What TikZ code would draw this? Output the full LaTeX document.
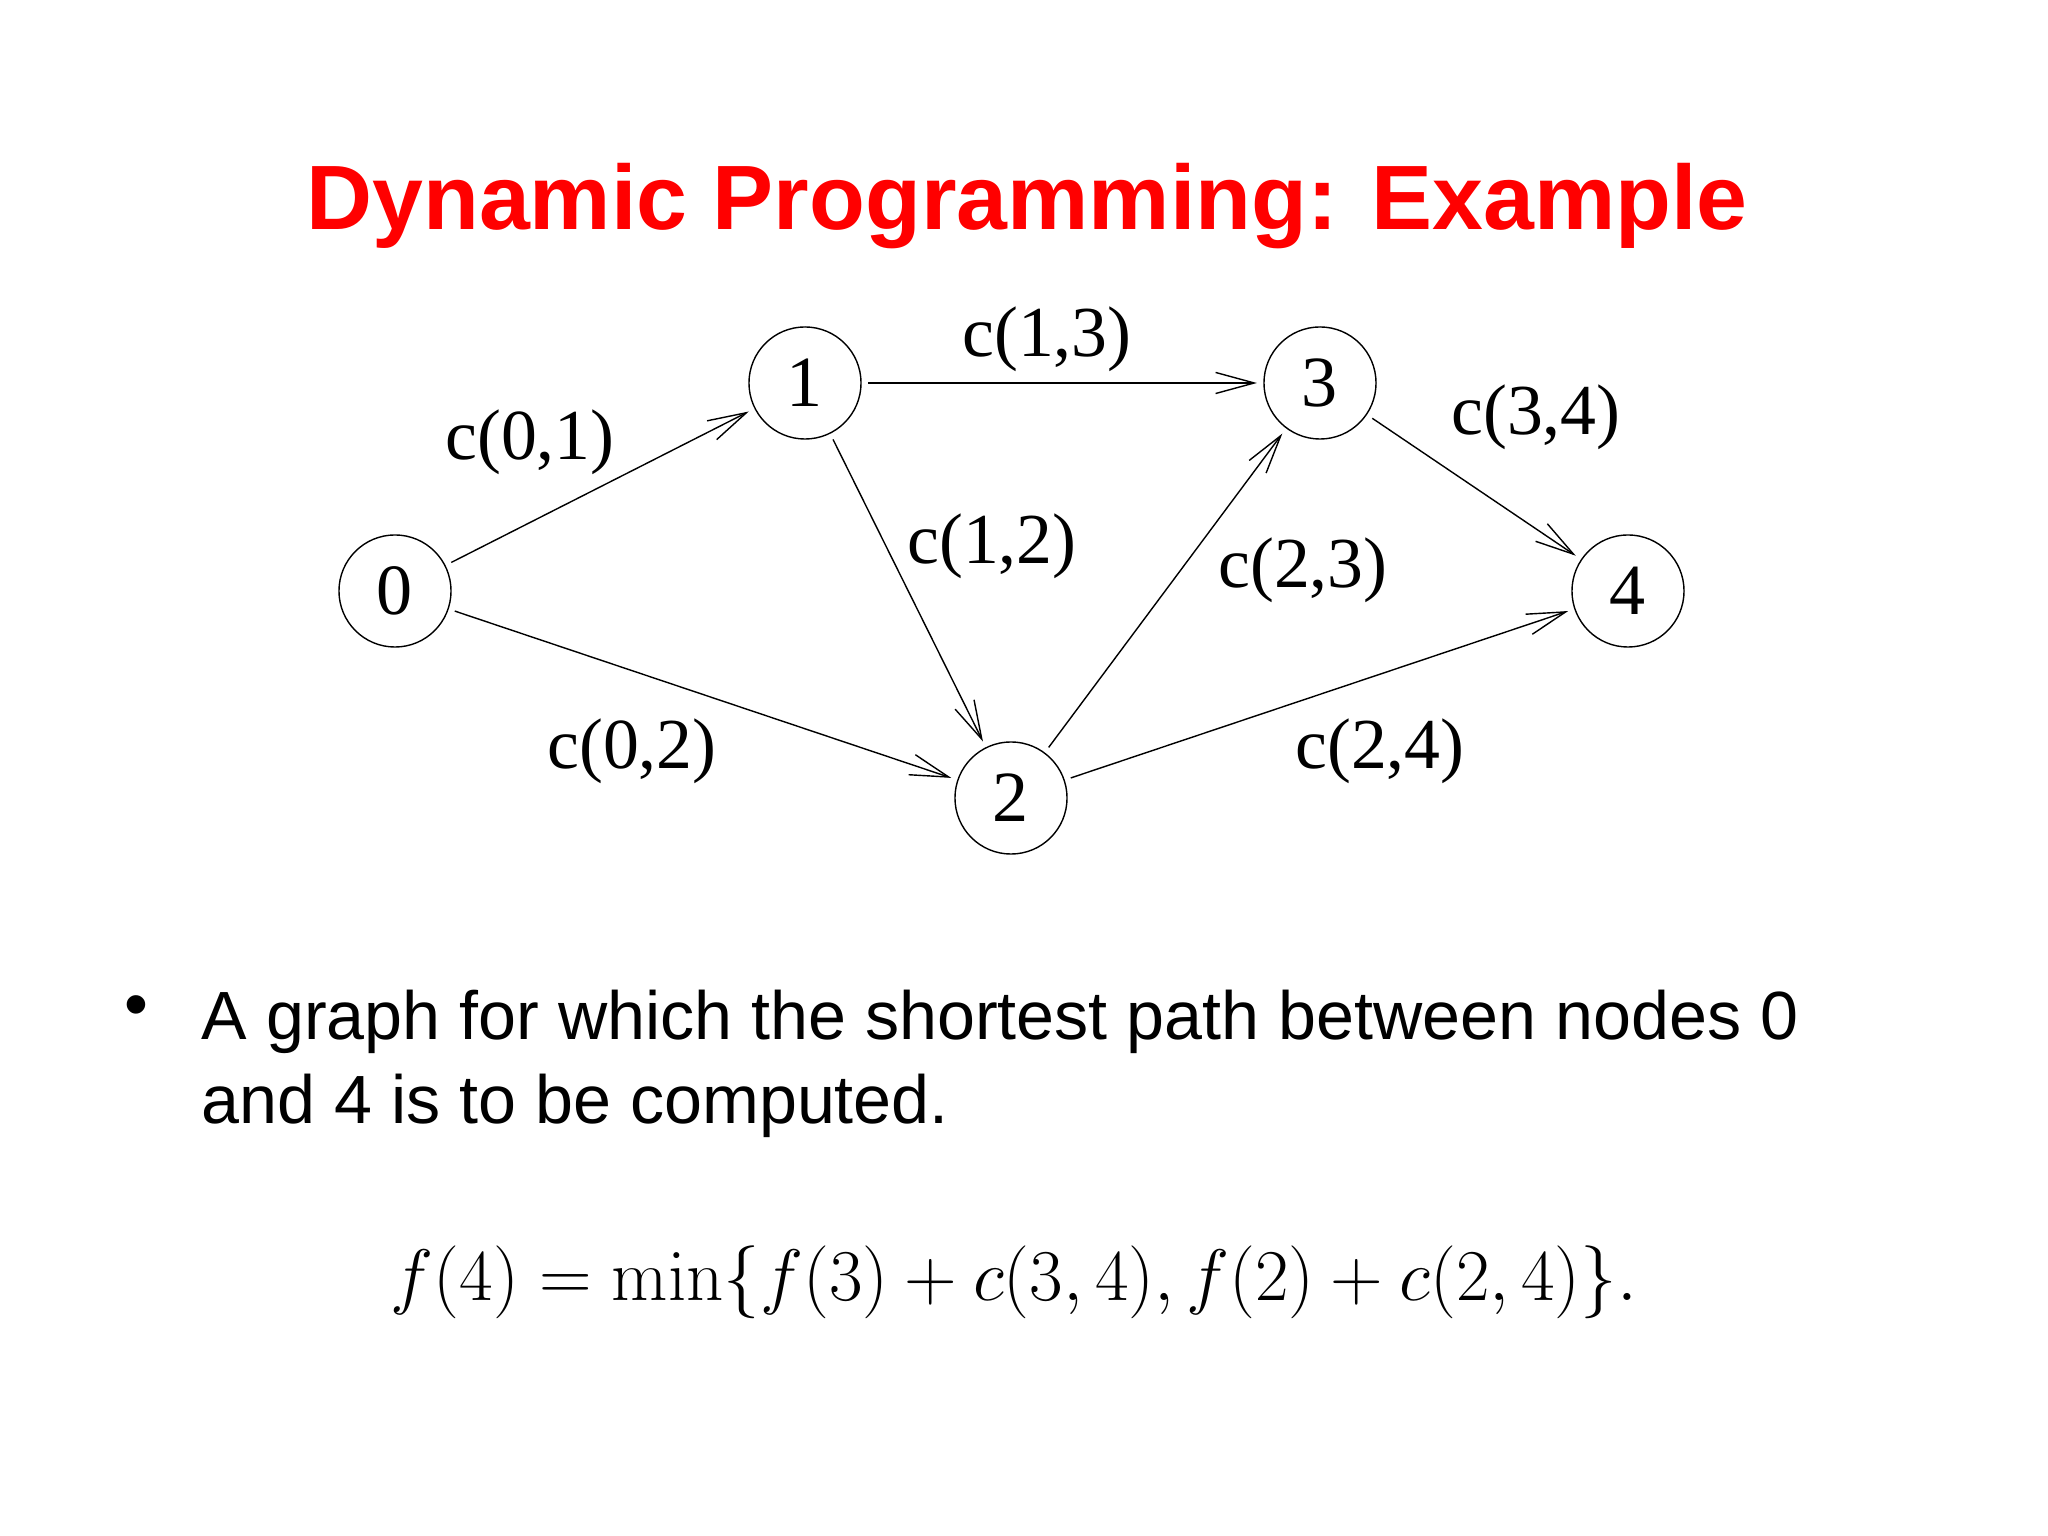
\documentclass[tikz,border=0pt]{standalone}
\usepackage{amsmath}
\usepackage{amssymb}
\usepackage[no-math]{fontspec}
\setmainfont{Liberation Serif}
\newfontfamily\arialfont{Liberation Sans}
\usetikzlibrary{arrows.meta}

\begin{document}
\begin{tikzpicture}[thin, x=0.01cm, y=0.01cm,
  >={Straight Barb[length=11pt, width=6pt]},
  vertex/.style={draw, circle, minimum size=1.12cm, inner sep=0pt, outer sep=2pt,
    font=\fontsize{20.5}{24}\selectfont},
  cost/.style={font=\fontsize{20.4}{24}\selectfont},
  slidetext/.style={font=\arialfont\fontsize{19.4}{23}\selectfont, anchor=base west, inner sep=0pt}]
  \useasboundingbox (0,0) rectangle (2048,1536);

  \node[font=\arialfont\bfseries\fontsize{26}{31}\selectfont, text=red, anchor=base, inner sep=0pt]
    (title) at (1027,1306) {Dynamic Programming: Example};

  \node[vertex] (N0) at (395,945) {0};
  \node[vertex] (N1) at (805,1153) {1};
  \node[vertex] (N2) at (1011,738) {2};
  \node[vertex] (N3) at (1320,1153) {3};
  \node[vertex] (N4) at (1628,945) {4};

  \draw[->] (N0) to (N1);
  \draw[->] (N0) to (N2);
  \draw[->] (N1) to (N3);
  \draw[->] (N1) to (N2);
  \draw[->] (N2) to (N3);
  \draw[->] (N2) to (N4);
  \draw[->] (N3) to (N4);

  \node[cost] (c01) at (530,1094) {c(0,1)};
  \node[cost] (c13) at (1047,1197) {c(1,3)};
  \node[cost] (c12) at (992,990) {c(1,2)};
  \node[cost] (c23) at (1303,966) {c(2,3)};
  \node[cost] (c34) at (1536,1119) {c(3,4)};
  \node[cost] (c02) at (632,785) {c(0,2)};
  \node[cost] (c24) at (1380,785) {c(2,4)};

  \node[slidetext] (dot) at (124,508) {\textbullet};
  \node[slidetext] (line1) at (201,496) {A graph for which the shortest path between nodes 0};
  \node[slidetext] (line2) at (201,412) {and 4 is to be computed.};

  \node[font=\fontsize{20.6}{24}\selectfont, anchor=base, inner sep=0pt] (rule) at (1014,235)
    {$f(4) = \min\{f(3) + c(3,4), f(2) + c(2,4)\}.$};
\end{tikzpicture}
\end{document}
